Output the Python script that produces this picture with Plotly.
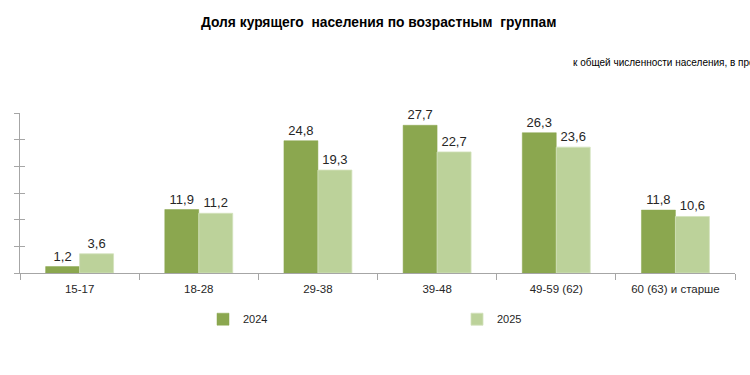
import plotly.graph_objects as go

categories = ["15-17", "18-28", "29-38", "39-48", "49-59 (62)", "60 (63) и старше"]
values_2024 = [1.2, 11.9, 24.8, 27.7, 26.3, 11.8]
values_2025 = [3.6, 11.2, 19.3, 22.7, 23.6, 10.6]
series_names = ["2024", "2025"]

def fmt(v):
    return f"{v:.1f}".replace(".", ",")

FONT = "Liberation Sans"
fig = go.Figure()
fig.add_trace(go.Bar(
    x=categories, y=values_2024, name=series_names[0],
    marker=dict(color="#8BA74F", line=dict(color="#8BA74F", width=0.5)),
    text=[fmt(v) for v in values_2024], textposition="outside",
    textfont=dict(size=13, color="#262626", family=FONT), cliponaxis=False,
))
fig.add_trace(go.Bar(
    x=categories, y=values_2025, name=series_names[1],
    marker=dict(color="#BCD29A", line=dict(color="#D3E2BC", width=0.8)),
    text=[fmt(v) for v in values_2025], textposition="outside",
    textfont=dict(size=13, color="#262626", family=FONT), cliponaxis=False,
))

fig.update_layout(
    width=750, height=375,
    margin=dict(l=20, r=15, t=112.7, b=102.3),
    paper_bgcolor="white", plot_bgcolor="white",
    barmode="group", bargap=0.43, bargroupgap=0,
    font=dict(family=FONT, color="#262626"),
    showlegend=True,
    legend=dict(
        orientation="h", x=(203 - 20) / 715, xanchor="left", y=-0.198, yanchor="top",
        entrywidth=209, entrywidthmode="pixels",
        font=dict(size=11, color="#262626", family=FONT),
        itemwidth=30, traceorder="normal",
    ),
    annotations=[
        dict(text="<b>Доля курящего  населения по возрастным  группам</b>",
             xref="paper", yref="paper", x=(378 - 20) / 715, y=1.0, xanchor="center", yanchor="middle",
             yshift=90.5, showarrow=False, font=dict(size=13.8, color="#000000", family=FONT)),
        dict(text="к общей численности населения, в процентах",
             xref="paper", yref="paper", x=(571 - 20) / 715, y=1.0, xanchor="left", yanchor="middle",
             yshift=50.5, showarrow=False, font=dict(size=10, color="#000000", family=FONT)),
    ],
    yaxis2=dict(
        overlaying="y", range=[0, 30], dtick=5, showticklabels=False,
        ticks="inside", ticklen=5, tickcolor="#A6A6A6", showline=False,
        showgrid=False, zeroline=False, side="left",
    ),
)
fig.update_xaxes(
    showline=True, linecolor="#A6A6A6", linewidth=1,
    ticks="outside", ticklen=6, tickcolor="#A6A6A6", tickson="boundaries",
    tickfont=dict(size=11.5, color="#262626", family=FONT),
    ticklabelstandoff=5,
    showgrid=False,
)
fig.layout.yaxis.update(
    range=[0, 30], dtick=5, showticklabels=False,
    showline=True, linecolor="#A6A6A6", linewidth=1,
    ticks="outside", ticklen=5, tickcolor="#A6A6A6",
    showgrid=False, zeroline=False,
)
fig.add_trace(go.Scatter(x=[categories[0]], y=[0], yaxis="y2", mode="markers",
                         marker=dict(opacity=0), showlegend=False, hoverinfo="skip"))

fig.write_html("out.html", config={"displayModeBar": False},
               post_script="document.body.style.margin='0';document.body.style.overflow='hidden';")
